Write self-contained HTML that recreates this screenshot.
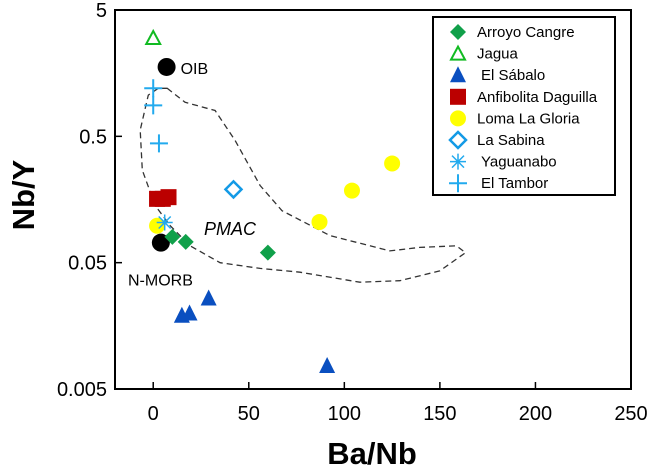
<!DOCTYPE html>
<html><head><meta charset="utf-8"><style>
body{margin:0;background:#fff}
svg{display:block;font-family:"Liberation Sans",Arial,sans-serif}
</style></head><body>
<svg id="chart" width="650" height="472" viewBox="0 0 650 472" xmlns="http://www.w3.org/2000/svg">
<g id="axes"></g><g id="env"></g><g id="marks"></g><g id="legend"></g>
</svg>
<script>
const xTicks=[0,50,100,150,200,250];
const yTicks=[5,0.5,0.05,0.005];
const yTickLabels=["5","0.5","0.05","0.005"];
const arroyoX=[10,17,60], arroyoY=[0.08,0.073,0.06];
const jaguaX=[0], jaguaY=[3.0];
const sabaloX=[15,19,29,91], sabaloY=[0.019,0.0198,0.026,0.0076];
const anfiX=[2,5,8], anfiY=[0.16,0.16,0.165];
const lomaX=[2,87,104,125], lomaY=[0.098,0.105,0.186,0.305];
const sabinaX=[42], sabinaY=[0.19];
const yaguaX=[6], yaguaY=[0.104];
const tamborX=[0,0,3], tamborY=[1.2,0.88,0.44];
const refX=[7,4], refY=[1.77,0.072], refLabels=["OIB","N-MORB"];
const envX=[7.3,16.7,32.4,42.8,55.9,67.4,92.4,123.8,139.4,158.7,163.4,149.9,129,108.1,76.8,55.9,35,19.3,8.9,1,-5.7,-6.8,-2.6,2.6];
const envY=[1.2,0.93,0.8,0.465,0.204,0.129,0.082,0.062,0.066,0.068,0.06,0.043,0.036,0.035,0.042,0.045,0.05,0.068,0.098,0.142,0.27,0.56,1.06];
envY.push(1.2);

const NS="http://www.w3.org/2000/svg";
const L=115,R=631,T=10,B=389,xmin=-20,xmax=250;
const sx=v=>L+(v-xmin)/(xmax-xmin)*(R-L);
const sy=v=>T+(Math.log10(5)-Math.log10(v))/3*(B-T);
function el(tag,attrs,parent,text){const e=document.createElementNS(NS,tag);for(const k in attrs)e.setAttribute(k,attrs[k]);if(text!=null)e.textContent=text;parent.appendChild(e);return e;}
const ax=document.getElementById('axes'),mk=document.getElementById('marks'),lg=document.getElementById('legend'),ev=document.getElementById('env');
let frame=el('rect',{x:L,y:T,width:R-L,height:B-T,fill:'none',stroke:'#000','stroke-width':2},ax);


xTicks.forEach(t=>{
 let ln=el('line',{x1:sx(t),x2:sx(t),y1:B,y2:B-7,stroke:'#000','stroke-width':1.5},ax);
 
 
 let tx=el('text',{x:sx(t),y:B+31,'text-anchor':'middle','font-size':20},ax,String(t));
 
 
});
yTicks.forEach((t,i)=>{
 let ln=el('line',{x1:L,x2:L+7,y1:sy(t),y2:sy(t),stroke:'#000','stroke-width':1.5},ax);
 
 
 let tx=el('text',{x:L-8,y:sy(t)+7,'text-anchor':'end','font-size':20},ax,yTickLabels[i]);
 
 
});
let xt=el('text',{x:372,y:464,'text-anchor':'middle','font-size':31,'font-weight':'bold'},ax,'Ba/Nb');


let yt=el('text',{x:0,y:0,'text-anchor':'middle','font-size':31,'font-weight':'bold',transform:'translate(34,195) rotate(-90)'},ax,'Nb/Y');


let d=envX.map((x,i)=>(i?'L':'M')+sx(x).toFixed(1)+','+sy(envY[i]).toFixed(1)).join(' ')+' Z';
let ep=el('path',{d:d,fill:'none',stroke:'#333','stroke-width':1.3,'stroke-dasharray':'6,4'},ev);


let pm=el('text',{x:230,y:235,'text-anchor':'middle','font-size':18,'font-style':'italic'},ev,'PMAC');



function shape(type,cx,cy,g,s){
 s=s||1;
 if(type==='diamond')return el('polygon',{points:`${cx},${cy-8*s} ${cx+8*s},${cy} ${cx},${cy+8*s} ${cx-8*s},${cy}`,fill:'#10a04a'},g);
 if(type==='opentri')return el('polygon',{points:`${cx},${cy-7*s} ${cx+7*s},${cy+6*s} ${cx-7*s},${cy+6*s}`,fill:'none',stroke:'#11bb22','stroke-width':2},g);
 if(type==='tri')return el('polygon',{points:`${cx},${cy-9*s} ${cx+8*s},${cy+7*s} ${cx-8*s},${cy+7*s}`,fill:'#0a4fc0'},g);
 if(type==='square')return el('rect',{x:cx-8*s,y:cy-8*s,width:16*s,height:16*s,fill:'#bb0000'},g);
 if(type==='yellow')return el('circle',{cx:cx,cy:cy,r:8*s,fill:'#ffff00'},g);
 if(type==='opendiamond')return el('polygon',{points:`${cx},${cy-8*s} ${cx+8*s},${cy} ${cx},${cy+8*s} ${cx-8*s},${cy}`,fill:'none',stroke:'#139ae6','stroke-width':2.5},g);
 if(type==='star'){const p=`M${cx-8*s},${cy}H${cx+8*s}M${cx},${cy-8*s}V${cy+8*s}M${cx-6*s},${cy-6*s}L${cx+6*s},${cy+6*s}M${cx+6*s},${cy-6*s}L${cx-6*s},${cy+6*s}`;return el('path',{d:p,stroke:'#22aaee','stroke-width':1.5,fill:'none'},g);}
 if(type==='plus'){const p=`M${cx-9*s},${cy}H${cx+9*s}M${cx},${cy-9*s}V${cy+9*s}`;return el('path',{d:p,stroke:'#22aaee','stroke-width':2,fill:'none'},g);}
 if(type==='black')return el('circle',{cx:cx,cy:cy,r:9,fill:'#000'},g);
}
const series=[
 ['Arroyo Cangre','diamond',arroyoX,arroyoY],
 ['Jagua','opentri',jaguaX,jaguaY],
 ['El Sábalo','tri',sabaloX,sabaloY],
 ['Anfibolita Daguilla','square',anfiX,anfiY],
 ['Loma La Gloria','yellow',lomaX,lomaY],
 ['La Sabina','opendiamond',sabinaX,sabinaY],
 ['Yaguanabo','star',yaguaX,yaguaY],
 ['El Tambor','plus',tamborX,tamborY]
];
const drawOrder=[4,3,0,1,2,5,6,7];
refX.forEach((x,i)=>{
 let c=shape('black',sx(x),sy(refY[i]),mk);
 
 
});
drawOrder.forEach(si=>{
 const s=series[si];
 s[2].forEach((x,i)=>{
  let m=shape(s[1],sx(x),sy(s[3][i]),mk);
  
  
 });
});
let t1=el('text',{x:sx(refX[0])+14,y:sy(refY[0])+7,'font-size':16},mk,refLabels[0]);


let t2=el('text',{x:128,y:sy(refY[1])+43,'font-size':16},mk,refLabels[1]);


let lb=el('rect',{x:433,y:17,width:182,height:178,fill:'#fff',stroke:'#000','stroke-width':2},lg);


series.forEach((s,i)=>{
 const cy=32+i*21.6;
 let m=shape(s[1],458,cy,lg,1.0);
 
 
 let tx=el('text',{x:(i===2||i>=6)?481:477,y:cy+5,'font-size':15},lg,s[0]);
 
 
});
</script>
</body></html>
